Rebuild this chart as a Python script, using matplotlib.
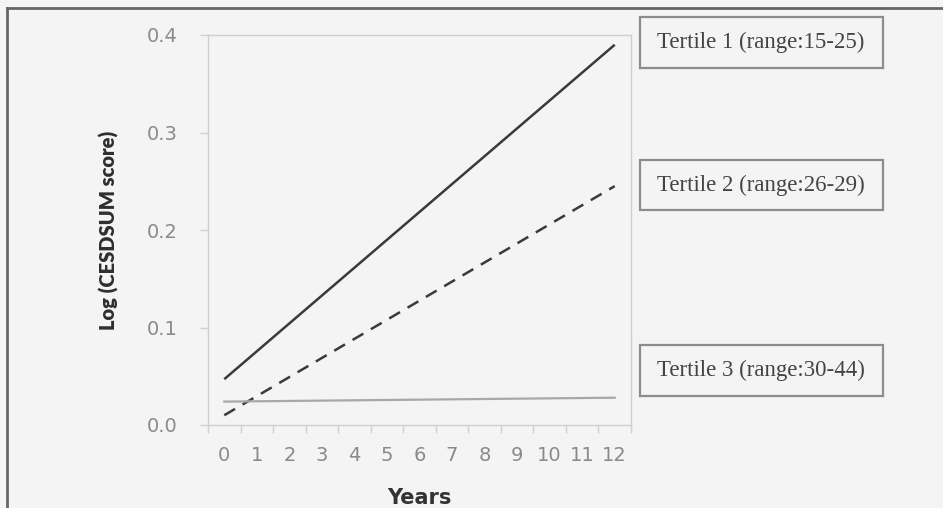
import numpy as np
import matplotlib
matplotlib.use("Agg")
import matplotlib.pyplot as plt
from matplotlib.patches import Rectangle
from matplotlib.lines import Line2D

years = list(range(13))
fit_years = [0, 12]
tertile1 = [0.047, 0.390]
tertile2 = [0.010, 0.245]
tertile3 = [0.024, 0.028]
labels = ["Tertile 1 (range:15-25)", "Tertile 2 (range:26-29)", "Tertile 3 (range:30-44)"]
yticks = [0.0, 0.1, 0.2, 0.3, 0.4]

W, H = 943, 508
fig = plt.figure(figsize=(W / 100, H / 100), dpi=100)
fig.patch.set_facecolor("#f4f4f4")


def fx(px):
    return px / W


def fy(py):
    return 1 - py / H


ax = fig.add_axes([fx(208), fy(425), fx(631) - fx(208), fy(35) - fy(425)])
ax.set_facecolor("#f4f4f4")

ax.plot(fit_years, tertile1, color="#3a3a3a", lw=1.8, solid_capstyle="butt")
ax.plot(fit_years, tertile2, color="#3a3a3a", lw=1.8, ls=(0, (5, 3.5)))
ax.plot(fit_years, tertile3, color="#a8a8a8", lw=1.6)

ax.set_xlim(-0.5, 12.5)
ax.set_ylim(0, 0.4)
ax.set_yticks(yticks)
ax.set_yticklabels([f"{v:.1f}" for v in yticks])
ax.set_xticks(years)
ax.set_xticks(np.arange(-0.5, 13, 1), minor=True)

for s in ax.spines.values():
    s.set_color("#cfcfcf")
    s.set_linewidth(1.0)

ax.tick_params(axis="y", length=6, width=1, color="#cfcfcf", pad=16,
               labelsize=14, labelcolor="#8a8a8a")
ax.tick_params(axis="x", which="major", length=0, pad=15,
               labelsize=14, labelcolor="#8a8a8a")
ax.tick_params(axis="x", which="minor", length=6, width=1, color="#cfcfcf")

ax.set_ylabel("Log (CESDSUM score)", fontsize=14.5, fontweight="heavy",
              family=["Lato", "DejaVu Sans"], color="#2e2e2e", labelpad=20)
ax.set_xlabel("Years", fontsize=15, fontweight="bold", color="#333333", labelpad=17)

# legend-style boxes on the right
boxes = [(17, 68), (160, 210), (345, 396)]
for (top, bot), lab in zip(boxes, labels):
    fig.patches.append(Rectangle((fx(640), fy(bot)), fx(883) - fx(640), fy(top) - fy(bot),
                                 transform=fig.transFigure, fill=False,
                                 edgecolor="#8c8c8c", lw=1.6))
    fig.text(fx(657), fy((top + bot) / 2), lab, family="Liberation Serif",
             fontsize=16.5, color="#444444", va="center", ha="left")

# outer frame (top and left edges)
fig.add_artist(Line2D([fx(7), 1], [fy(8), fy(8)], color="#666666", lw=2,
                      transform=fig.transFigure))
fig.add_artist(Line2D([fx(7), fx(7)], [0, fy(8)], color="#666666", lw=2,
                      transform=fig.transFigure))

fig.savefig("out.png", dpi=100, facecolor=fig.get_facecolor())
